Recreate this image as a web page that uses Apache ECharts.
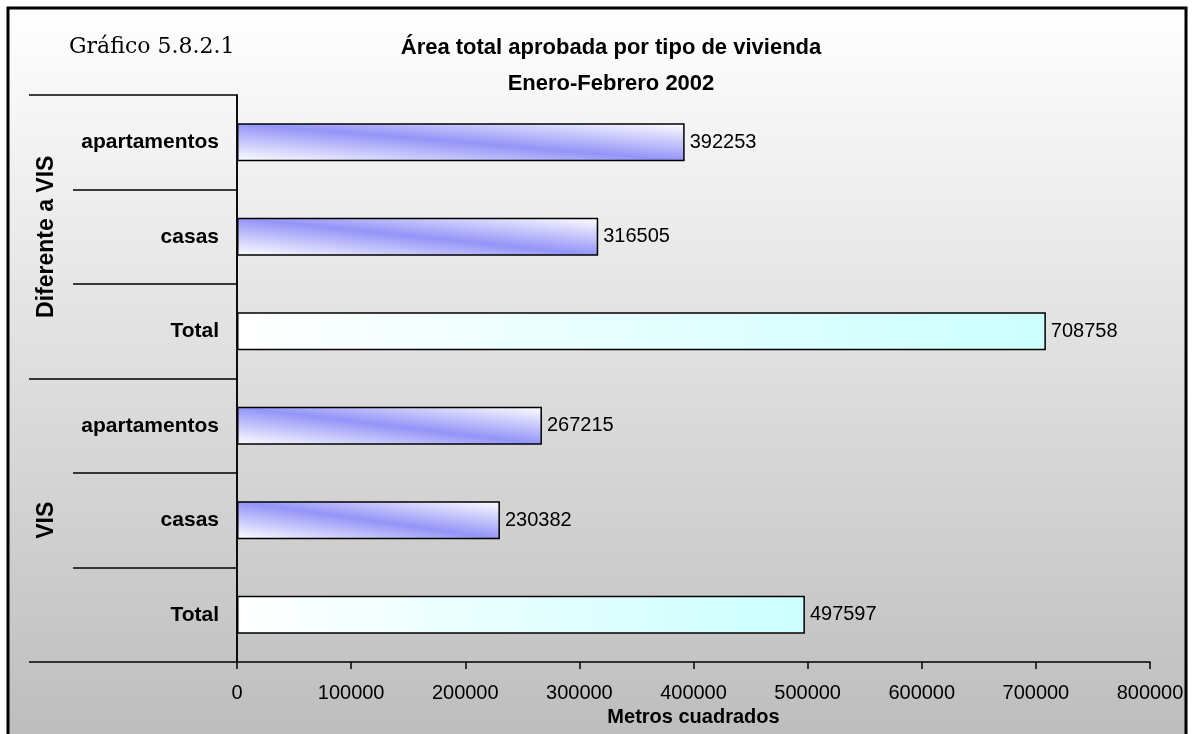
<!DOCTYPE html>
<html>
<head>
<meta charset="utf-8">
<title>Área total aprobada por tipo de vivienda</title>
<script src="https://cdn.jsdelivr.net/npm/echarts@6/dist/echarts.min.js"></script>
<style>
  html, body { margin: 0; padding: 0; background: #fff; }
  #chart { width: 1195px; height: 734px; }
</style>
</head>
<body>
<div id="chart"></div>
<script>
// datos (de arriba hacia abajo)
const categories = ["apartamentos", "casas", "Total", "apartamentos", "casas", "Total"];
const groups = ["Diferente a VIS", "VIS"];
const values = [392253, 316505, 708758, 267215, 230382, 497597];
const xMin = 0;
const xMax = 800000;
const xStep = 100000;

const FONT = "'Liberation Sans', Arial, sans-serif";

// degradado azul en diagonal (como en Excel)
function diagonalBlue(w, h) {
  const l2 = w * w + h * h;
  const dx = (h * h) / l2;
  const dy = (w * w) / l2;
  return new echarts.graphic.LinearGradient(0.5 - dx, 0.5 + dy, 0.5 + dx, 0.5 - dy, [
    { offset: 0, color: "#ffffff" },
    { offset: 0.5, color: "#9494f8" },
    { offset: 1, color: "#ffffff" },
  ]);
}
const totalFill = new echarts.graphic.LinearGradient(0, 0, 1, 0, [
  { offset: 0, color: "#ffffff" },
  { offset: 1, color: "#ccffff" },
]);

const chart = echarts.init(document.getElementById("chart"));

function buildData(sizes) {
  return values.map((v, i) => ({
    value: v,
    itemStyle: {
      color: categories[i] === "Total" ? totalFill : (sizes ? diagonalBlue(sizes[i].w, sizes[i].h) : "#9494f8"),
    },
  }));
}

const option = {
  backgroundColor: "#ffffff",
  textStyle: { fontFamily: FONT },
  graphic: [
    {
      type: "rect",
      z: -10,
      shape: { x: 8, y: 8, width: 1178, height: 740 },
      style: {
        fill: new echarts.graphic.LinearGradient(0, 0, 0, 1, [
          { offset: 0, color: "#ffffff" },
          { offset: 1, color: "#bcbcbc" },
        ]),
        stroke: "#000",
        lineWidth: 3,
      },
    },
  ],
  title: [
    {
      text: "Área total aprobada por tipo de vivienda\nEnero-Febrero 2002",
      left: 606,
      top: 25,
      textAlign: "center",
      textStyle: { fontFamily: FONT, fontSize: 22, fontWeight: "bold", color: "#000", lineHeight: 36 },
    },
    {
      text: "Gráfico 5.8.2.1",
      left: 64,
      top: 31,
      textStyle: { fontFamily: "'DejaVu Serif', serif", fontSize: 22, fontWeight: "normal", color: "#000" },
    },
  ],
  grid: { left: 237, right: 45, top: 95, bottom: 72 },
  xAxis: {
    type: "value",
    min: xMin,
    max: xMax,
    interval: xStep,
    name: "Metros cuadrados",
    nameLocation: "middle",
    nameGap: 42,
    nameTextStyle: { fontFamily: FONT, fontSize: 20, fontWeight: "bold", color: "#000" },
    axisLine: { show: true, lineStyle: { color: "#000", width: 1.5 } },
    axisTick: { show: true, length: 7, lineStyle: { color: "#000", width: 1.5 } },
    axisLabel: { fontFamily: FONT, fontSize: 20, color: "#000", margin: 21, formatter: (v) => String(v) },
    splitLine: { show: false },
  },
  yAxis: [
    {
      type: "category",
      data: categories,
      inverse: true,
      axisLine: { show: true, lineStyle: { color: "#000", width: 1.5 } },
      axisTick: { show: true, length: 164, lineStyle: { color: "#000", width: 1.5 } },
      axisLabel: { fontFamily: FONT, fontSize: 21, fontWeight: "bold", color: "#000", margin: 18 },
    },
    {
      type: "category",
      data: groups,
      inverse: true,
      position: "left",
      axisLine: { show: true, lineStyle: { color: "#000", width: 1.5 } },
      axisTick: { show: true, length: 208, lineStyle: { color: "#000", width: 1.5 } },
      axisLabel: { fontFamily: FONT, fontSize: 23, fontWeight: "bold", color: "#000", rotate: 90, margin: 179 },
    },
  ],
  series: [
    {
      type: "bar",
      yAxisIndex: 0,
      barWidth: "40%",
      data: buildData(null),
      itemStyle: { borderColor: "#000", borderWidth: 1.5 },
      label: {
        show: true,
        position: "right",
        distance: 5,
        fontFamily: FONT,
        fontSize: 20,
        color: "#000",
      },
    },
  ],
};

chart.setOption(option);

// tamaño real de cada barra, para orientar el degradado
const x0 = chart.convertToPixel({ xAxisIndex: 0 }, xMin);
const band = Math.abs(chart.convertToPixel({ yAxisIndex: 0 }, 1) - chart.convertToPixel({ yAxisIndex: 0 }, 0));
const sizes = values.map((v) => ({ w: chart.convertToPixel({ xAxisIndex: 0 }, v) - x0, h: band * 0.4 }));
chart.setOption({ series: [{ data: buildData(sizes) }] });
</script>
</body>
</html>
